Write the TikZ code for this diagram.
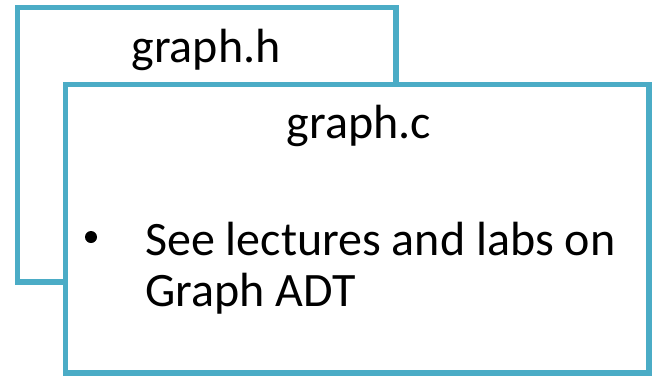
\documentclass[tikz,border=0pt]{standalone}
\usepackage{fontspec}
\setmainfont{Carlito}
\usepackage{tikz}
\usetikzlibrary{positioning}
\definecolor{boxline}{HTML}{4BACC6}

\begin{document}
\begin{tikzpicture}[x=1pt,y=-1pt,
	filebox/.style={draw=boxline,line width=5.5pt,fill=white},
	title/.style={inner sep=0pt,anchor=base,font=\fontsize{48}{48}\selectfont},
	body/.style={inner sep=0pt,anchor=base west,font=\fontsize{48}{48}\selectfont}]
	\useasboundingbox (0,0) rectangle (653,376);

	% header file (behind)
	\draw[filebox] (17.5,7.5) rectangle (396,282);
	\node[title] at (206,62) (hname) {graph.h};

	% source file (in front)
	\draw[filebox] (65.5,84.5) rectangle (649,373);
	\node[title] at (359,138) (cname) {graph.c};

	%bullet and text
	\node[body] at (145,255) (line1) {See lectures and labs on};
	\node[body] at (145,306) (line2) {Graph ADT};
	\fill (91,237) circle (6);
\end{tikzpicture}
\end{document}
